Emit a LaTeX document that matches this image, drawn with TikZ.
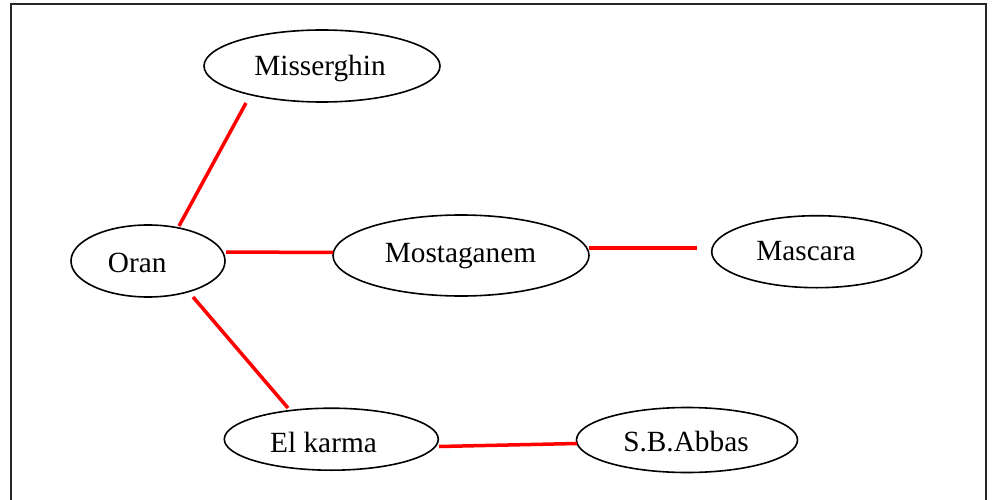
\documentclass[tikz,border=0pt]{standalone}
\usepackage{fontspec}
\setmainfont{Liberation Serif}
\usetikzlibrary{shapes.geometric}
\begin{document}
\begin{tikzpicture}[x=1pt,y=-1pt,
  town/.style={ellipse, draw=black, line width=1.6pt, inner sep=0pt},
  townlabel/.style={anchor=base, inner sep=0pt, font=\fontsize{29.3}{34}\selectfont},
  road/.style={draw=red, line width=3.5pt}]
\useasboundingbox (0,0) rectangle (992,500);
% outer frame (bottom edge lies below the page)
\draw[line width=2pt, black!85] (11,510) -- (11,4) -- (985.5,4) -- (985.5,510);

% towns
\node[town, minimum width=236pt, minimum height=72pt] (misserghin) at (322,66) {};
\node[town, minimum width=154pt, minimum height=72pt] (oran) at (148,261) {};
\node[town, minimum width=256pt, minimum height=81pt] (mostaganem) at (461,255.5) {};
\node[town, minimum width=210pt, minimum height=72pt] (mascara) at (816.7,251.7) {};
\node[town, minimum width=214pt, minimum height=62pt] (elkarma) at (331.3,439.2) {};
\node[town, minimum width=221pt, minimum height=65pt] (sbabbas) at (687,440) {};

% names
\node[townlabel] (misserghin-t) at (320,76) {Misserghin};
\node[townlabel] (oran-t) at (137.2,272.3) {Oran};
\node[townlabel] (mostaganem-t) at (460.5,262.3) {Mostaganem};
\node[townlabel] (mascara-t) at (806,260) {Mascara};
\node[townlabel] (elkarma-t) at (323.5,452.3) {El karma};
\node[townlabel] (sbabbas-t) at (686,451.7) {S.B.Abbas};

% road ends
\coordinate (r1a) at (179,226);   \coordinate (r1b) at (246,103);
\coordinate (r2a) at (226,252);   \coordinate (r2b) at (333,252.5);
\coordinate (r3a) at (193,297);   \coordinate (r3b) at (288,408);
\coordinate (r4a) at (589,248);   \coordinate (r4b) at (697,248);
\coordinate (r5a) at (439,446.5); \coordinate (r5b) at (577,443.5);

% roads
\draw[road] (r1a) -- (r1b);
\draw[road] (r2a) -- (r2b);
\draw[road] (r3a) -- (r3b);
\draw[road] (r4a) -- (r4b);
\draw[road] (r5a) -- (r5b);
\end{tikzpicture}
\end{document}
